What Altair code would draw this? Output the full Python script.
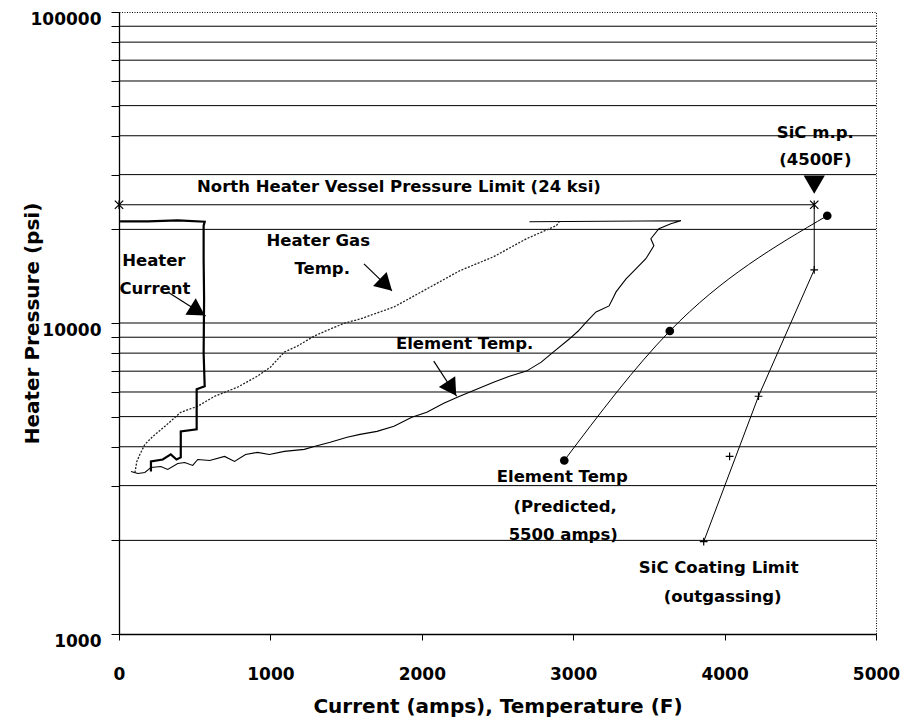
import altair as alt
import pandas as pd

# ---------------- data ----------------
# Heater current trace (amps, psi)
current_x = [211, 211, 289, 342, 380, 408, 408, 513, 513, 566, 559, 562, 559, 559, 566, 388, 191, 7]
current_y = [3331, 3588, 3641, 3779, 3641, 3697, 4483, 4551, 6125, 6262, 8000, 12000, 16000, 20550, 21170, 21380, 21220, 21220]

# Heater gas temperature trace (F, psi)
gas_x = [105, 118, 138, 171, 224, 303, 408, 520, 632, 783, 914, 1000, 1092, 1178, 1289, 1395, 1493,
         1592, 1816, 2033, 2250, 2474, 2691, 2888, 2908]
gas_y = [3306, 3588, 3779, 4071, 4320, 4653, 5163, 5400, 5814, 6217, 6745, 7211, 8064, 8428, 9078, 9564, 10000,
         10300, 11260, 12870, 14720, 16330, 18660, 20550, 21170]

# Element temperature trace (F, psi)
element_x = [79, 125, 171, 211, 276, 322, 388, 434, 487, 520, 599, 697, 763, 836, 914, 993, 1092, 1224, 1289, 1395,
             1507, 1592, 1704, 1816, 1934, 2033, 2145, 2250, 2362, 2474, 2579, 2691, 2789, 2868, 2974, 3033, 3086,
             3151, 3237, 3270, 3283, 3349, 3414, 3480, 3533, 3513, 3566, 3645, 3711, 2711]
element_y = [3331, 3282, 3306, 3432, 3457, 3381, 3535, 3561, 3483, 3641, 3613, 3724, 3588, 3779, 3836, 3779, 3865,
             3923, 4010, 4133, 4290, 4385, 4483, 4653, 4977, 5163, 5521, 5814, 6125, 6452, 6745, 7003, 7484, 8064,
             8880, 9424, 10070, 10850, 11350, 12220, 12590, 13860, 14940, 16090, 17720, 18660, 20100, 20860, 21320,
             21170]

# Element temp predicted (5500 amps)
pred_x = [2941, 3638, 4678]
pred_y = [3613, 9423, 22130]

# SiC coating limit (outgassing)
sic_x = [4592, 4592, 4224, 3862]
sic_y = [24000, 14830, 5815, 1982]
sic_mark_x = [4592, 4224, 4033, 3862]
sic_mark_y = [14830, 5815, 3726, 1982]

# North heater vessel pressure limit (24 ksi)
limit_x = [0, 4592]
limit_y = [24000, 24000]

# SiC melting point marker
mp_x = [4592]
mp_y = [27870]

# gridlines
grid_vals = [2000, 3000, 4000, 5000, 6000, 7000, 8000, 9000, 10000,
             20000, 30000, 40000, 50000, 60000, 70000, 80000, 90000]
y_tick_vals = [1000, 2000, 3000, 4000, 5000, 6000, 7000, 8000, 9000, 10000,
               20000, 30000, 40000, 50000, 60000, 70000, 80000, 90000, 100000]
x_tick_vals = [0, 1000, 2000, 3000, 4000, 5000]

# annotation texts
ann_text = ["North Heater Vessel Pressure Limit (24 ksi)", "Heater", "Current", "Heater Gas", "Temp.",
            "Element  Temp.", "Element Temp", "(Predicted,", "5500 amps)", "SiC Coating Limit", "(outgassing)",
            "SiC m.p.", "(4500F)"]
ann_x = [1849, 230, 237, 1316, 1342, 2283, 2928, 2947, 2934, 3961, 3987, 4599, 4599]
ann_y = [27460, 15850, 12870, 18390, 14940, 8555, 3186, 2569, 2086, 1633, 1316, 40710, 33310]

# arrows
arrow_x1 = [322, 1618, 2079]
arrow_y1 = [12590, 15500, 7542]
arrow_x2 = [572, 1803, 2230]
arrow_y2 = [10530, 12680, 5814]
head_x = [520, 1763, 2197]
head_y = [10930, 13260, 6148]
head_angle = [122, 134, 147]

# ---------------- chart ----------------
W, H = 757, 622
FONT = "DejaVu Sans"
xs = alt.Scale(domain=[0, 5000], nice=False, zero=False)
ys = alt.Scale(type="log", domain=[1000, 100000], nice=False)

YA = alt.Axis(values=y_tick_vals, format="d", grid=False, labelFlush=False,
              labelExpr="(datum.value == 1000 || datum.value == 10000 || datum.value == 100000) ? datum.label : ''",
              title="Heater Pressure (psi)", titleFont=FONT, titleFontSize=20, titleFontWeight="bold",
              titleColor="black", titleX=-81, titleY=H / 2, titleAngle=270, titleBaseline="alphabetic",
              labelFont=FONT, labelFontSize=17, labelFontWeight="bold", labelColor="black",
              labelBaseline="top", labelOffset=-1,
              labelPadding=10, tickSize=8, tickColor="black", tickWidth=1,
              domainColor="black", domainWidth=1.3)
XA = alt.Axis(values=x_tick_vals, format="d", grid=False, labelFlush=False,
              title="Current (amps), Temperature (F)", titleFont=FONT, titleFontSize=20,
              titleFontWeight="bold", titleColor="black", titleY=78, titleBaseline="alphabetic",
              labelFont=FONT, labelFontSize=17, labelFontWeight="bold", labelColor="black",
              labelPadding=26, tickSize=6, tickColor="black", tickWidth=1,
              domainColor="black", domainWidth=1.3)


def path_df(xv, yv):
    return pd.DataFrame({"x": xv, "y": yv, "i": list(range(len(xv)))})


def enc_xy(xf="x", yf="y"):
    return dict(x=alt.X(f"{xf}:Q", scale=xs, axis=XA, title="Current (amps), Temperature (F)"),
                y=alt.Y(f"{yf}:Q", scale=ys, axis=YA, title="Heater Pressure (psi)"))


grid = alt.Chart(pd.DataFrame({"v": grid_vals})).mark_rule(color="black", strokeWidth=1).encode(
    y=alt.Y("v:Q", scale=ys, axis=YA, title="Heater Pressure (psi)"),
    x=alt.value(0), x2=alt.value(W),
)

current = alt.Chart(path_df(current_x, current_y)).mark_line(color="black", strokeWidth=2.2).encode(
    order="i:Q", **enc_xy())
gas = alt.Chart(path_df(gas_x, gas_y)).mark_line(color="#222222", strokeWidth=1.3, strokeDash=[2, 1.5]).encode(
    order="i:Q", **enc_xy())
element = alt.Chart(path_df(element_x, element_y)).mark_line(color="black", strokeWidth=1.1).encode(
    order="i:Q", **enc_xy())

pred_line = alt.Chart(path_df(pred_x, pred_y)).mark_line(color="black", strokeWidth=1, interpolate="monotone").encode(
    order="i:Q", **enc_xy())
pred_pts = alt.Chart(path_df(pred_x, pred_y)).mark_circle(color="black", size=75, opacity=1).encode(**enc_xy())

sic_line = alt.Chart(path_df(sic_x, sic_y)).mark_line(color="black", strokeWidth=1).encode(order="i:Q", **enc_xy())
sic_pts = alt.Chart(path_df(sic_mark_x, sic_mark_y)).mark_point(
    shape="M-1,0L1,0M0,-1L0,1", size=60, filled=False, color="black", strokeWidth=1.2, opacity=1).encode(**enc_xy())

limit_line = alt.Chart(path_df(limit_x, limit_y)).mark_line(color="black", strokeWidth=1.2).encode(
    order="i:Q", **enc_xy())
limit_pts = alt.Chart(path_df(limit_x, limit_y)).mark_point(
    shape="M-1,-1L1,1M-1,1L1,-1M0,-1L0,1", size=70, filled=False, color="black", strokeWidth=1.2,
    opacity=1).encode(**enc_xy())

mp_tri = alt.Chart(path_df(mp_x, mp_y)).mark_point(
    shape="triangle-down", size=450, filled=True, color="black", opacity=1).encode(**enc_xy())

arrows = alt.Chart(pd.DataFrame({"x": arrow_x1, "y": arrow_y1, "x2": arrow_x2, "y2": arrow_y2})).mark_rule(
    color="black", strokeWidth=1.2).encode(x2="x2:Q", y2="y2:Q", **enc_xy())
heads = alt.Chart(pd.DataFrame({"x": head_x, "y": head_y, "a": head_angle})).mark_point(
    shape="triangle-up", size=380, filled=True, color="black", opacity=1).encode(
    angle=alt.Angle("a:Q", scale=None), **enc_xy())

texts = alt.Chart(pd.DataFrame({"t": ann_text, "x": ann_x, "y": ann_y})).mark_text(
    font=FONT, fontWeight="bold", fontSize=16.5, color="black", align="center", baseline="middle").encode(
    text="t:N", **enc_xy())

chart = alt.layer(
    grid, gas, element, current, pred_line, pred_pts, sic_line, sic_pts,
    limit_line, limit_pts, mp_tri, arrows, heads, texts
).properties(
    width=W, height=H,
    padding={"left": 111, "top": 4, "right": 25, "bottom": 83},
    autosize=alt.AutoSizeParams(type="none"),
    background="white",
).configure_view(
    stroke="black", strokeDash=[1, 1.5], strokeWidth=1
)

chart.save("out.html", embed_options={"renderer": "svg", "actions": False})
